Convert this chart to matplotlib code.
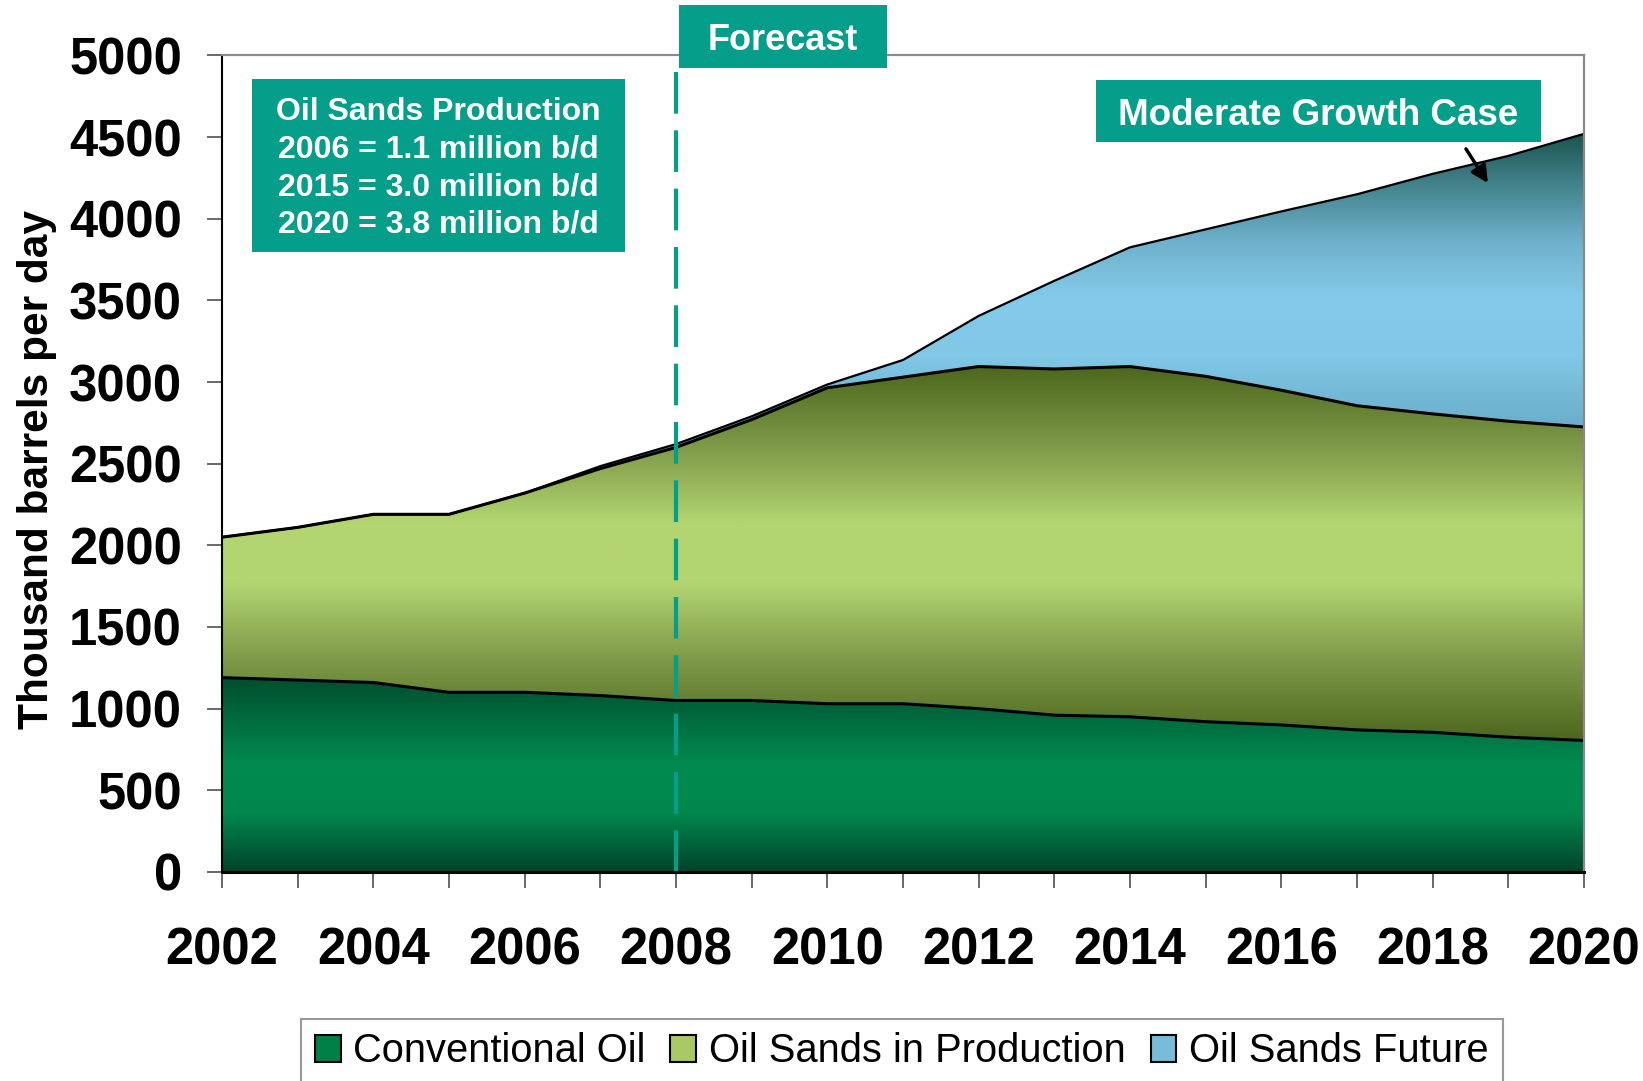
import numpy as np
import matplotlib
matplotlib.use("Agg")
import matplotlib.pyplot as plt
from matplotlib.colors import LinearSegmentedColormap
from matplotlib.patches import Rectangle, Patch

plt.rcParams['font.family'] = ['Liberation Sans', 'DejaVu Sans']

# ---------------- data ----------------
years = list(range(2002, 2021))
conventional_oil = [1190, 1175, 1160, 1100, 1100, 1080, 1050, 1050, 1030, 1030,
                    1000, 960, 950, 920, 900, 870, 855, 825, 805]
oil_sands_in_production = [860, 935, 1030, 1090, 1220, 1390, 1550, 1720, 1935, 2000,
                           2095, 2120, 2145, 2115, 2050, 1985, 1950, 1935, 1920]
oil_sands_future = [0, 0, 0, 0, 0, 15, 20, 20, 20, 105,
                    310, 540, 730, 900, 1095, 1295, 1470, 1625, 1795]
series_names = ["Conventional Oil", "Oil Sands in Production", "Oil Sands Future"]
yticks = list(range(0, 5001, 500))
xtick_labels = [str(y) if y % 2 == 0 else "" for y in years]
forecast_year = 2008
info_lines = ["Oil Sands Production", "2006 = 1.1 million b/d",
              "2015 = 3.0 million b/d", "2020 = 3.8 million b/d"]

# ---------------- figure ----------------
fig = plt.figure(figsize=(16.43, 10.81), dpi=100)
ax = fig.add_axes([0.1351, 0.1934, 0.8290, 0.7553])

x = np.array(years, dtype=float)
c = np.array(conventional_oil, dtype=float)
p = np.array(oil_sands_in_production, dtype=float)
f = np.array(oil_sands_future, dtype=float)
top1 = c
top2 = c + p
top3 = c + p + f

TEAL = '#059E8A'


def gradient_fill(lo, hi, stops, ext, z):
    poly = ax.fill_between(x, lo, hi, facecolor='none', edgecolor='none', zorder=z)
    cmap = LinearSegmentedColormap.from_list('g', stops)
    grad = np.linspace(0, 1, 600).reshape(-1, 1)
    im = ax.imshow(grad, extent=[x[0], x[-1], ext[0], ext[1]], origin='lower',
                   aspect='auto', cmap=cmap, zorder=z, interpolation='bilinear')
    im.set_clip_path(poly.get_paths()[0], transform=ax.transData)
    return im


# conventional oil gradient
gradient_fill(np.zeros_like(x), top1,
              [(0.0, '#00432a'), (0.3, '#00874d'), (0.55, '#008b50'), (1.0, '#004e2e')],
              (0, top1.max()), 2)
# oil sands in production gradient
lo2, hi2 = top1.min(), top2.max()
gradient_fill(top1, top2,
              [(0.0, '#4d681e'), (0.2, '#7a9646'), (0.42, '#b3d571'), (0.58, '#b3d571'),
               (0.8, '#7a9646'), (1.0, '#4d681e')],
              (lo2, hi2), 2)
# oil sands future gradient
lo3, hi3 = 2000, top3.max()
def fr(v):
    return (v - lo3) / (hi3 - lo3)
gradient_fill(top2, top3,
              [(0.0, '#4d90b0'), (fr(2730), '#6aaecb'), (fr(3150), '#80c8e6'),
               (fr(3500), '#84cbea'), (fr(3850), '#70b2cd'), (fr(4150), '#4a8b97'),
               (1.0, '#1c5550')],
              (lo3, hi3), 2)

# boundary lines
ax.plot(x, top3, color='black', lw=1.6, zorder=4, solid_joinstyle='round')
ax.plot(x, top2, color='black', lw=2.2, zorder=4, solid_joinstyle='round')
ax.plot(x, top1, color='black', lw=2.2, zorder=4, solid_joinstyle='round')

# forecast dashed line
ax.plot([forecast_year, forecast_year], [0, 5000], color=TEAL, lw=3,
        dashes=(10, 4), zorder=5)

ax.set_xlim(2002, 2020)
ax.set_ylim(0, 5000)

ax.set_yticks(yticks)
ax.set_yticklabels([str(v) for v in yticks], fontsize=36.5, fontweight='bold')
ax.set_xticks(years)
ax.set_xticklabels(xtick_labels, fontsize=36.5, fontweight='bold')
ax.tick_params(axis='y', direction='out', length=10.8, width=1.1, color='#404040', pad=18)
ax.tick_params(axis='x', direction='out', length=11.5, width=1.1, color='#404040', pad=28)

for s in ['top', 'right']:
    ax.spines[s].set_color('#8a8a8a')
    ax.spines[s].set_linewidth(1.6)
ax.spines['left'].set_color('black')
ax.spines['left'].set_linewidth(1.5)
ax.spines['bottom'].set_color('black')
ax.spines['bottom'].set_linewidth(2.2)
for s in ax.spines.values():
    s.set_zorder(6)

fig.text(0.0225, 0.566, "Thousand barrels per day", rotation=90, ha='center',
         va='center', fontsize=30.5, fontweight='bold')

# annotation boxes (figure coords)
def box(x0, y0, w, h):
    fig.add_artist(Rectangle((x0, y0), w, h, transform=fig.transFigure,
                             facecolor=TEAL, edgecolor='none', zorder=10))

# Forecast
box(0.4133, 0.9371, 0.1266, 0.0581)
fig.text(0.4133 + 0.1266 / 2, 0.9371 + 0.0581 / 2 - 0.004, "Forecast", color='white',
         fontsize=26, fontweight='bold', ha='center', va='center', zorder=11)
# Oil sands production info
box(0.1531, 0.7673, 0.2276, 0.1600)
fig.text(0.1531 + 0.2276 / 2, 0.7673 + 0.16 / 2 - 0.003, "\n".join(info_lines),
         color='white', fontsize=23, fontweight='bold', ha='center', va='center',
         linespacing=1.33, zorder=11)
# Moderate growth case
box(0.6671, 0.8682, 0.2709, 0.0582)
fig.text(0.6671 + 0.2709 / 2, 0.8682 + 0.0582 / 2 - 0.004, "Moderate Growth Case", color='white',
         fontsize=26.5, fontweight='bold', ha='center', va='center', zorder=11)

ax.annotate('', xy=(2018.75, 4204), xytext=(2018.42, 4442),
            arrowprops=dict(arrowstyle='-|>', lw=2.5, color='black', mutation_scale=25),
            zorder=12)

# legend
handles = [Patch(facecolor='#007f47', edgecolor='black', lw=1.5),
           Patch(facecolor='#a8c964', edgecolor='black', lw=1.5),
           Patch(facecolor='#78bcd9', edgecolor='black', lw=1.5)]
leg = fig.legend(handles, series_names, loc='upper left', bbox_to_anchor=(0.1830, 0.0578),
                 ncol=3, fontsize=28.7, frameon=True, fancybox=False, handlelength=0.65,
                 handleheight=0.65, handletextpad=0.32, columnspacing=0.62,
                 borderpad=0.35, borderaxespad=0)
leg.get_frame().set_edgecolor('#808080')
leg.get_frame().set_linewidth(1.5)

fig.savefig('out.png', dpi=100)
